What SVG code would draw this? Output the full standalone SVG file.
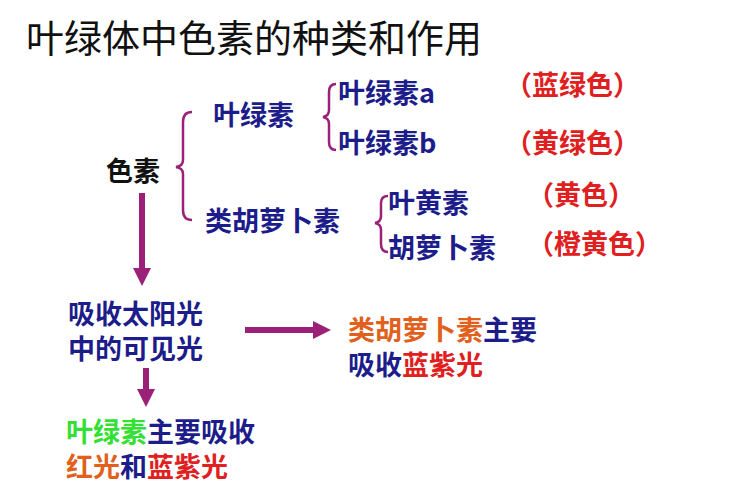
<svg xmlns="http://www.w3.org/2000/svg" width="750" height="500" viewBox="0 0 750 500">
<style>
text{font-family:"Noto Sans CJK SC","Liberation Sans",sans-serif;font-size:27px;font-weight:bold}
.b{fill:#1c1c8a}.r{fill:#e02020}.o{fill:#e0601c}.g{fill:#33e033}.k{fill:#111}
.br{fill:none;stroke:#9a2078;stroke-width:2.5}
.ar{stroke:#9a2078;stroke-width:6;fill:none}
</style>
<defs><marker id="ah" markerWidth="3" markerHeight="3" refX="1.5" refY="1.5" orient="auto" markerUnits="strokeWidth"><path d="M0,0 L3,1.5 L0,3 Z" fill="#9a2078"/></marker></defs>
<rect width="750" height="500" fill="#fff"/>
<text x="26" y="52" class="k" style="font-size:38px;font-weight:normal">叶绿体中色素的种类和作用</text>
<g id="n-sesu"><text x="106" y="181" class="k">色素</text></g>
<g id="n-yls"><text x="213" y="125" class="b">叶绿素</text></g>
<g id="n-ylsa"><text x="338" y="103" class="b">叶绿素a</text><text x="505" y="95" class="r">（蓝绿色）</text></g>
<g id="n-ylsb"><text x="338" y="153" class="b">叶绿素b</text><text x="505" y="153" class="r">（黄绿色）</text></g>
<g id="n-lhlbs"><text x="205" y="231" class="b">类胡萝卜素</text></g>
<g id="n-yhs"><text x="388" y="213" class="b">叶黄素</text><text x="527" y="205" class="r">（黄色）</text></g>
<g id="n-hlbs"><text x="388" y="258" class="b">胡萝卜素</text><text x="527" y="254" class="r">（橙黄色）</text></g>
<g id="n-light"><text x="68" y="324" class="b">吸收太阳光</text><text x="68" y="359" class="b">中的可见光</text></g>
<g id="n-car"><text x="348" y="340" class="o">类胡萝卜素<tspan class="b">主要</tspan></text><text x="348" y="375" class="b">吸收<tspan class="r">蓝紫光</tspan></text></g>
<g id="n-chl"><text x="66" y="442" class="g">叶绿素<tspan class="b">主要吸收</tspan></text><text x="66" y="477" class="o">红光<tspan class="b">和</tspan><tspan class="r">蓝紫光</tspan></text></g>
<g id="connectors">
<path class="br" d="M192,112 Q183,112 183,122 L183,160 Q183,166 176,167 Q183,168 183,174 L183,210 Q183,220 192,220"/>
<path class="br" d="M336,84 Q329,84 329,92 L329,110 Q329,116 323,117 Q329,118 329,124 L329,142 Q329,150 336,150"/>
<path class="br" d="M388,196 Q381,196 381,203 L381,216 Q381,222 375,223 Q381,224 381,230 L381,244 Q381,252 388,252"/>
<line class="ar" x1="142" y1="193" x2="142" y2="277" marker-end="url(#ah)"/>
<line class="ar" x1="245" y1="330" x2="322" y2="330" marker-end="url(#ah)"/>
<line class="ar" x1="146" y1="368" x2="146" y2="398" marker-end="url(#ah)"/>
</g>
</svg>
